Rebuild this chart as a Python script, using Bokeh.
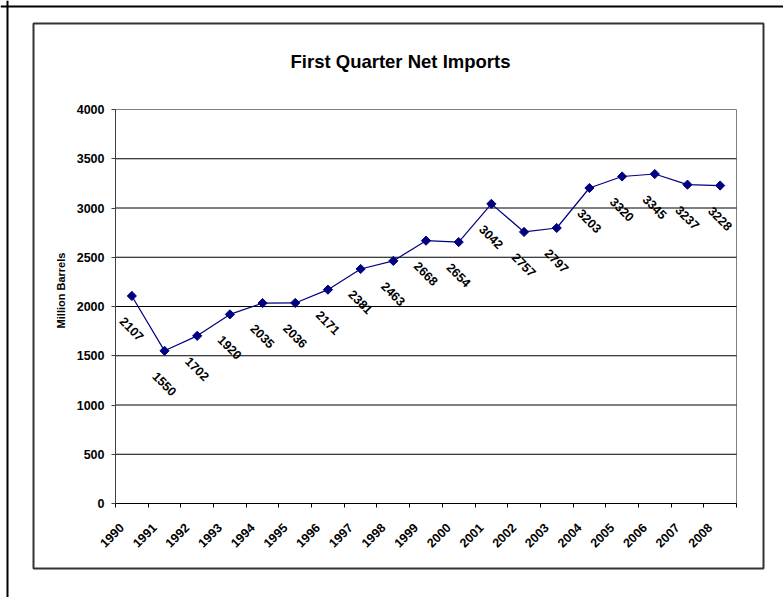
import math
from bokeh.plotting import figure
from bokeh.models import (Range1d, FixedTicker, CustomJSTickFormatter, Label,
                          BoxAnnotation, ColumnDataSource, LinearAxis, Span)
from bokeh.core.properties import value
from bokeh.embed import file_html
from bokeh.resources import INLINE

# ---- data ----
years = ["1990", "1991", "1992", "1993", "1994", "1995", "1996", "1997", "1998", "1999",
         "2000", "2001", "2002", "2003", "2004", "2005", "2006", "2007", "2008"]
imports = [2107, 1550, 1702, 1920, 2035, 2036, 2171, 2381, 2463, 2668,
           2654, 3042, 2757, 2797, 3203, 3320, 3345, 3237, 3228]
y_ticks = [0, 500, 1000, 1500, 2000, 2500, 3000, 3500, 4000]
title_text = "First Quarter Net Imports"
y_title = "Million Barrels"

# ---- layout: the frame covers the whole canvas; plot area placed inside it ----
W, H = 783, 597
PL, PR, PT, PB = 115, 736, 109, 503          # plot-area edges, canvas pixels
XMIN, XMAX = -0.5, len(years) - 0.5
YMIN, YMAX = y_ticks[0], y_ticks[-1]
kx = (XMAX - XMIN) / (PR - PL)
ky = (YMAX - YMIN) / (PB - PT)
x_range = Range1d(XMIN - PL * kx, XMAX + (W - PR) * kx)
y_range = Range1d(YMIN - (H - PB) * ky, YMAX + PT * ky)

FONT = "Liberation Sans"

p = figure(width=W, height=H, output_backend="svg", toolbar_location=None,
           x_range=x_range, y_range=y_range, x_axis_location=None, y_axis_location=None,
           min_border=0, title=None)
p.min_border_left = p.min_border_right = p.min_border_top = p.min_border_bottom = 0
p.background_fill_color = "white"
p.border_fill_color = "white"
p.outline_line_color = None
p.grid.visible = False

centers = list(range(len(years)))
bounds = [i - 0.5 for i in range(len(years) + 1)]

# plot-area outline (gray) and horizontal gridlines (black)
p.quad(left=[XMIN], right=[XMAX], bottom=[YMIN], top=[YMAX],
       fill_color=None, line_color="#808080", line_width=1)
gsrc = ColumnDataSource(dict(y=y_ticks[1:-1]))
p.segment(x0=XMIN, x1=XMAX, y0="y", y1="y", source=gsrc, line_color="#000000", line_width=1)

# y axis
yax = LinearAxis(fixed_location=XMIN, bounds=(YMIN, YMAX), ticker=FixedTicker(ticks=y_ticks))
yax.axis_line_color = "#404040"
yax.major_tick_line_color = "#404040"
yax.major_tick_out = 4
yax.major_tick_in = 0
yax.minor_tick_line_color = None
yax.major_label_standoff = 7
yax.major_label_text_font = FONT
yax.major_label_text_font_style = "bold"
yax.major_label_text_font_size = "12.5px"
yax.major_label_text_color = "black"
p.add_layout(yax, "left")

# x axis (labels slightly left of the category centre, as in the original)
label_shift = -0.31
xax = LinearAxis(fixed_location=YMIN, bounds=(XMIN, XMAX),
                 ticker=FixedTicker(ticks=[c + label_shift for c in centers], minor_ticks=bounds))
xax.formatter = CustomJSTickFormatter(args=dict(labels=years, shift=label_shift),
                                      code="return labels[Math.round(tick - shift)];")
xax.axis_line_color = "#000000"
xax.major_tick_out = 0
xax.major_tick_in = 0
xax.major_tick_line_color = None
xax.minor_tick_out = 4
xax.minor_tick_in = 0
xax.minor_tick_line_color = "#000000"
xax.major_label_orientation = math.pi / 4
xax.major_label_standoff = 18
xax.major_label_text_font = FONT
xax.major_label_text_font_style = "bold"
xax.major_label_text_font_size = "12.5px"
xax.major_label_text_color = "black"
p.add_layout(xax, "below")

# data
src = ColumnDataSource(dict(x=centers, y=imports, lab=[str(v) for v in imports]))
p.line("x", "y", source=src, line_color="#000080", line_width=1.2)
p.scatter("x", "y", source=src, marker="square", angle=math.pi / 4, size=6.5,
          fill_color="#000080", line_color="#000080")
p.text("x", "y", text="lab", source=src, angle=-math.pi / 4, y_offset=33,
       text_align="center", text_baseline="middle", text_font=value(FONT),
       text_font_style="bold", text_font_size="12.5px", text_color="black")

# title and y-axis title (screen units: origin at the frame's bottom-left)
p.add_layout(Label(x=400, y=H - 61, x_units="screen", y_units="screen", text=title_text,
                   text_align="center", text_baseline="alphabetic", text_font=FONT,
                   text_font_style="bold", text_font_size="18.5px", text_color="black"))
p.add_layout(Label(x=60, y=H - 290, x_units="screen", y_units="screen", text=y_title,
                   angle=math.pi / 2, text_align="center", text_baseline="middle",
                   text_font=FONT, text_font_style="bold", text_font_size="11px",
                   text_color="black"))

# chart-area border
p.add_layout(BoxAnnotation(left=33, right=763, top=H - 23, bottom=H - 568,
                           left_units="screen", right_units="screen",
                           top_units="screen", bottom_units="screen",
                           fill_color=None, fill_alpha=0,
                           line_color="#333333", line_alpha=1, line_width=2))
# outer frame: only its left and top edges fall inside the picture
p.add_layout(Span(location=7, location_units="screen", dimension="height",
                  line_color="#000000", line_width=2))
p.add_layout(Span(location=H - 6, location_units="screen", dimension="width",
                  line_color="#000000", line_width=2))

open("out.html", "w").write(file_html(p, INLINE))
